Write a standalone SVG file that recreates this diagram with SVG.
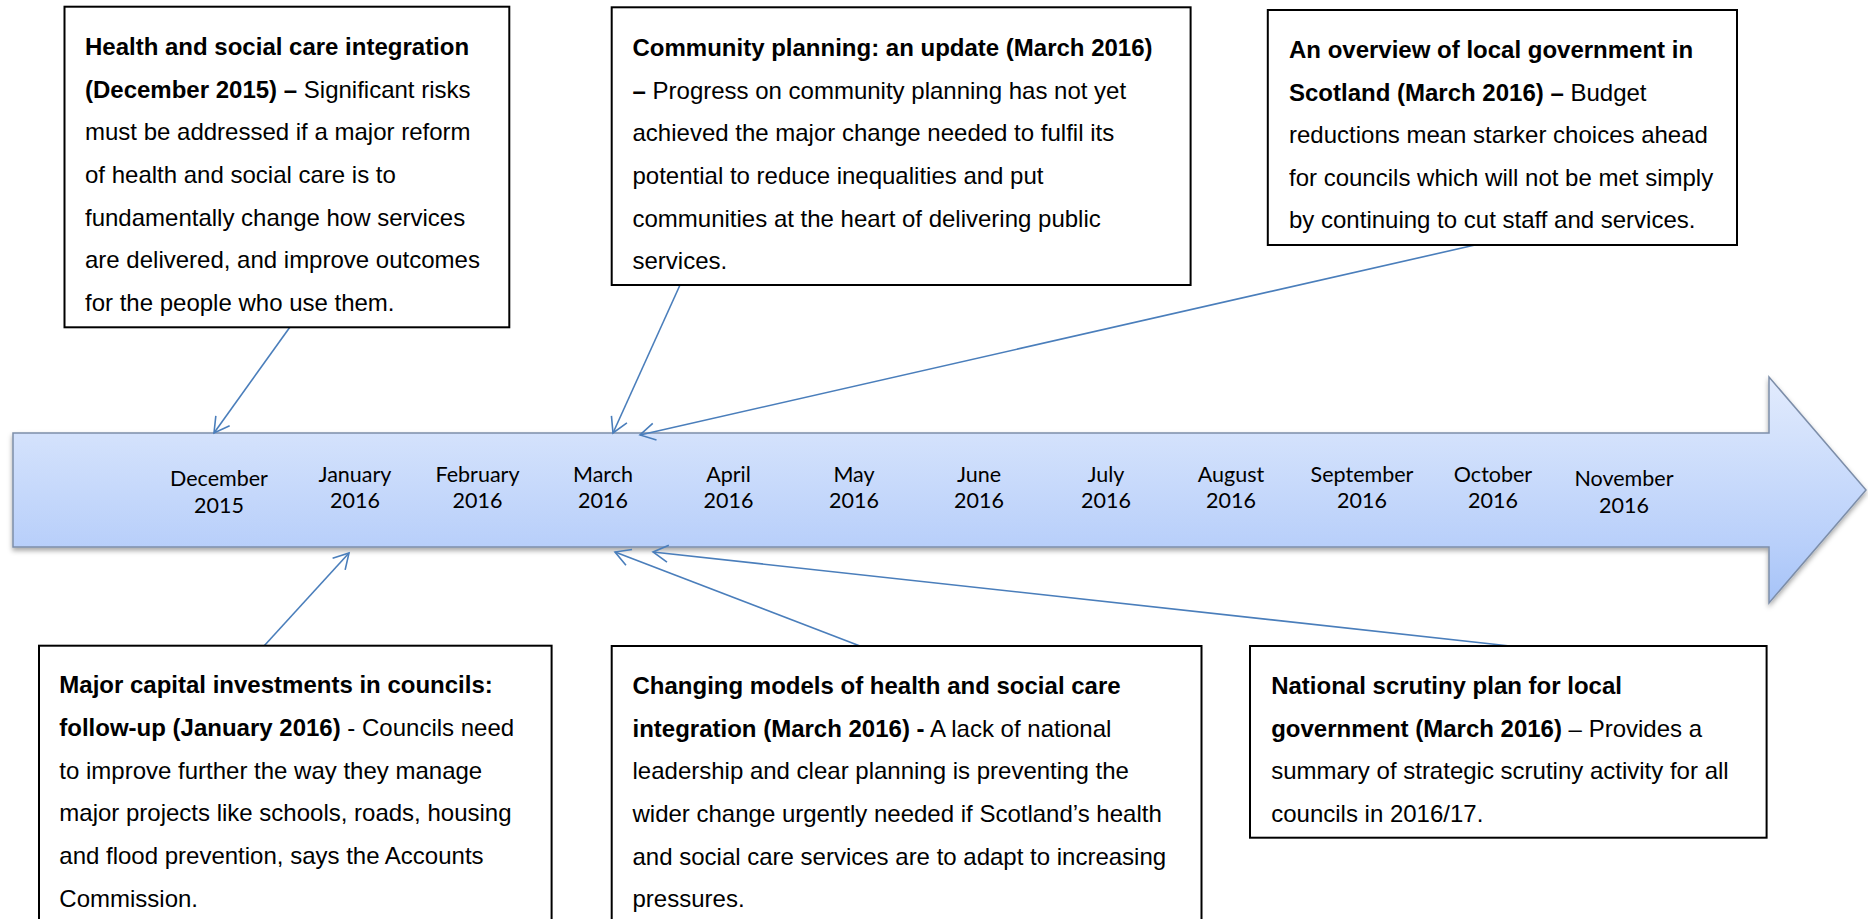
<svg xmlns="http://www.w3.org/2000/svg" width="1868" height="919" viewBox="0 0 1868 919">
<style>
.box{fill:#fff;stroke:#000;stroke-width:2}
.t{font-family:"Liberation Sans",Arial,sans-serif;font-size:24px;fill:#000}
.b{font-weight:bold}
.m{font-family:Lato,"Open Sans",sans-serif;font-size:21.5px;fill:#000;text-anchor:middle}
.c{fill:none;stroke:#4a7ebb;stroke-width:1.6}
</style>
<defs>
<linearGradient id="g" x1="0" y1="0" x2="0" y2="1">
<stop offset="0" stop-color="#e2ebfd"/>
<stop offset="0.25" stop-color="#d4e2fc"/>
<stop offset="0.75" stop-color="#b8cffa"/>
<stop offset="1" stop-color="#a6c3f7"/>
</linearGradient>
<filter id="sh" x="-5%" y="-20%" width="110%" height="150%">
<feDropShadow dx="0" dy="3" stdDeviation="2.5" flood-color="#000" flood-opacity="0.35"/>
</filter>
<marker id="ah" markerUnits="userSpaceOnUse" viewBox="-17 -10 19 20" markerWidth="19" markerHeight="20" refX="0" refY="0" orient="auto" overflow="visible">
<path d="M-15,-8.5 L0,0 L-15,8.5" fill="none" stroke="#4a7ebb" stroke-width="1.6"/>
</marker>
</defs>
<rect width="1868" height="919" fill="#fff"/>

<g id="timeline">
<polygon points="13,433 1769,433 1769,377 1866,490 1769,603 1769,547 13,547" fill="url(#g)" stroke="#7d8ea9" stroke-width="1.5" filter="url(#sh)"/>
<text class="m"><tspan x="219" y="486">December</tspan><tspan x="219" y="512.7">2015</tspan></text>
<text class="m"><tspan x="355" y="481.7">January</tspan><tspan x="355" y="508.3">2016</tspan></text>
<text class="m"><tspan x="477.5" y="481.7">February</tspan><tspan x="477.5" y="508.3">2016</tspan></text>
<text class="m"><tspan x="603" y="481.7">March</tspan><tspan x="603" y="508.3">2016</tspan></text>
<text class="m"><tspan x="728.5" y="481.7">April</tspan><tspan x="728.5" y="508.3">2016</tspan></text>
<text class="m"><tspan x="854" y="481.7">May</tspan><tspan x="854" y="508.3">2016</tspan></text>
<text class="m"><tspan x="979" y="481.7">June</tspan><tspan x="979" y="508.3">2016</tspan></text>
<text class="m"><tspan x="1106" y="481.7">July</tspan><tspan x="1106" y="508.3">2016</tspan></text>
<text class="m"><tspan x="1231" y="481.7">August</tspan><tspan x="1231" y="508.3">2016</tspan></text>
<text class="m"><tspan x="1362" y="481.7">September</tspan><tspan x="1362" y="508.3">2016</tspan></text>
<text class="m"><tspan x="1493" y="481.7">October</tspan><tspan x="1493" y="508.3">2016</tspan></text>
<text class="m"><tspan x="1624" y="486">November</tspan><tspan x="1624" y="512.7">2016</tspan></text>
</g>

<g id="connectors">
<line class="c" x1="290" y1="327" x2="214" y2="433" marker-end="url(#ah)"/>
<line class="c" x1="680" y1="285" x2="613" y2="433" marker-end="url(#ah)"/>
<line class="c" x1="1475" y1="245" x2="640" y2="435" marker-end="url(#ah)"/>
<line class="c" x1="264" y1="646" x2="349" y2="553" marker-end="url(#ah)"/>
<line class="c" x1="860" y1="646" x2="615" y2="552" marker-end="url(#ah)"/>
<line class="c" x1="1510" y1="646" x2="653" y2="552" marker-end="url(#ah)"/>
</g>

<g id="box-health">
<rect class="box" x="64.5" y="6.7" width="444.8" height="320.6"/>
<text class="t">
<tspan x="85" y="55" class="b">Health and social care integration</tspan>
<tspan x="85" y="97.7"><tspan class="b">(December 2015) –</tspan> Significant risks</tspan>
<tspan x="85" y="140.3">must be addressed if a major reform</tspan>
<tspan x="85" y="183">of health and social care is to</tspan>
<tspan x="85" y="225.7">fundamentally change how services</tspan>
<tspan x="85" y="268.3">are delivered, and improve outcomes</tspan>
<tspan x="85" y="311">for the people who use them.</tspan>
</text>
</g>

<g id="box-community">
<rect class="box" x="611.7" y="7.3" width="578.9" height="277.7"/>
<text class="t">
<tspan x="632.5" y="56" class="b">Community planning: an update (March 2016)</tspan>
<tspan x="632.5" y="98.7"><tspan class="b">–</tspan> Progress on community planning has not yet</tspan>
<tspan x="632.5" y="141.3">achieved the major change needed to fulfil its</tspan>
<tspan x="632.5" y="184">potential to reduce inequalities and put</tspan>
<tspan x="632.5" y="226.7">communities at the heart of delivering public</tspan>
<tspan x="632.5" y="269.3">services.</tspan>
</text>
</g>

<g id="box-overview">
<rect class="box" x="1267.8" y="10" width="469.2" height="235"/>
<text class="t">
<tspan x="1289" y="58.3" class="b">An overview of local government in</tspan>
<tspan x="1289" y="100.8"><tspan class="b">Scotland (March 2016) –</tspan> Budget</tspan>
<tspan x="1289" y="143.3">reductions mean starker choices ahead</tspan>
<tspan x="1289" y="185.8">for councils which will not be met simply</tspan>
<tspan x="1289" y="228.3">by continuing to cut staff and services.</tspan>
</text>
</g>

<g id="box-capital">
<rect class="box" x="39" y="645.7" width="512.6" height="290"/>
<text class="t">
<tspan x="59.3" y="693.3" class="b">Major capital investments in councils:</tspan>
<tspan x="59.3" y="736"><tspan class="b">follow-up (January 2016)</tspan> - Councils need</tspan>
<tspan x="59.3" y="778.7">to improve further the way they manage</tspan>
<tspan x="59.3" y="821.3">major projects like schools, roads, housing</tspan>
<tspan x="59.3" y="864">and flood prevention, says the Accounts</tspan>
<tspan x="59.3" y="906.7">Commission.</tspan>
</text>
</g>

<g id="box-changing">
<rect class="box" x="611.7" y="646" width="589.8" height="290"/>
<text class="t">
<tspan x="632.5" y="694" class="b">Changing models of health and social care</tspan>
<tspan x="632.5" y="736.7"><tspan class="b">integration (March 2016) -</tspan> A lack of national</tspan>
<tspan x="632.5" y="779.3">leadership and clear planning is preventing the</tspan>
<tspan x="632.5" y="822">wider change urgently needed if Scotland’s health</tspan>
<tspan x="632.5" y="864.7">and social care services are to adapt to increasing</tspan>
<tspan x="632.5" y="907.3">pressures.</tspan>
</text>
</g>

<g id="box-scrutiny">
<rect class="box" x="1250" y="646" width="516.6" height="191.7"/>
<text class="t">
<tspan x="1271.2" y="694" class="b">National scrutiny plan for local</tspan>
<tspan x="1271.2" y="736.5"><tspan class="b">government (March 2016)</tspan> – Provides a</tspan>
<tspan x="1271.2" y="779">summary of strategic scrutiny activity for all</tspan>
<tspan x="1271.2" y="821.5">councils in 2016/17.</tspan>
</text>
</g>
</svg>
